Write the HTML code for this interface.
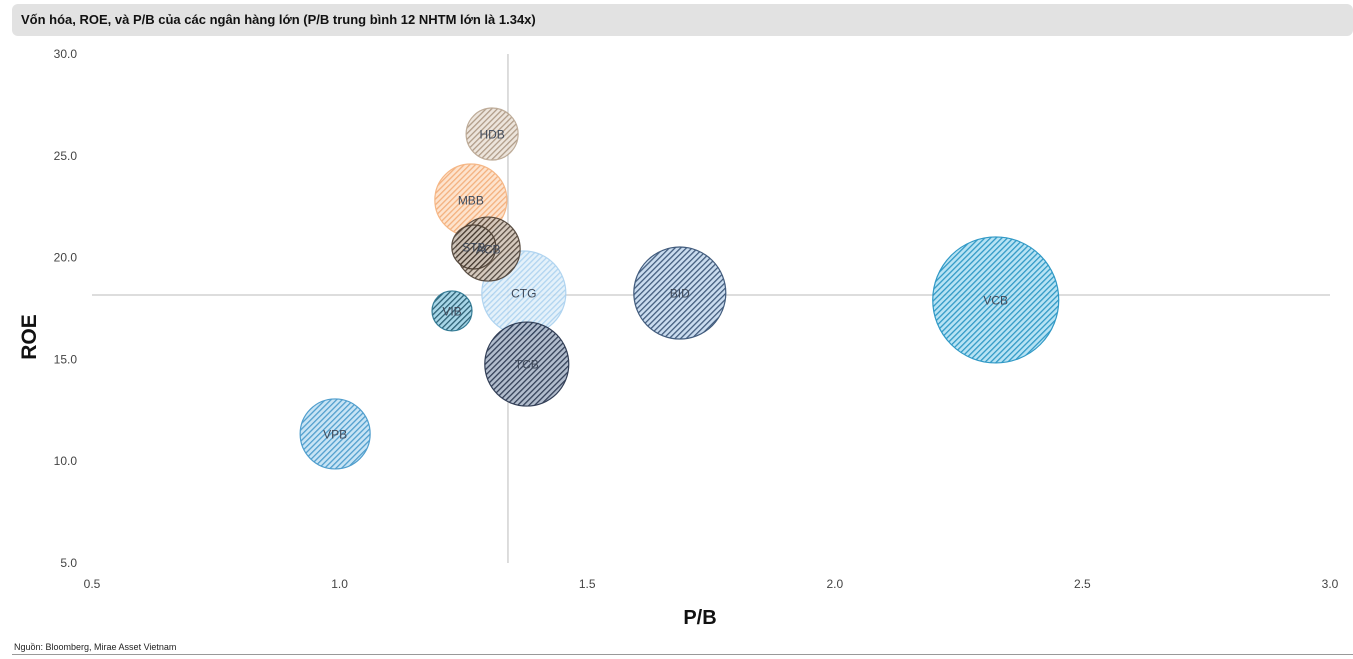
<!DOCTYPE html>
<html><head><meta charset="utf-8"><style>
body{margin:0;background:#fff;font-family:"Liberation Sans",sans-serif;}
#wrap{position:relative;width:1353px;height:659px;overflow:hidden;}
#title{position:absolute;left:12px;top:4px;width:1341px;height:32px;background:#e2e2e2;border-radius:6px;font-weight:bold;font-size:13px;line-height:32px;padding-left:9px;box-sizing:border-box;color:#111;}
#src{position:absolute;left:14px;top:642px;font-size:9px;color:#222;}
#rule{position:absolute;left:12px;top:654px;width:1341px;height:1px;background:#999;}
</style></head><body>
<div id="wrap">
<div id="title">Vốn hóa, ROE, và P/B của các ngân hàng lớn (P/B trung bình 12 NHTM lớn là 1.34x)</div>
<svg id="chart" width="1353" height="659" style="position:absolute;left:0;top:0"></svg>
<div id="src">Nguồn: Bloomberg, Mirae Asset Vietnam</div>
<div id="rule"></div>
</div>
<script>
const banks=["HDB","MBB","ACB","STB","CTG","BID","VCB","VIB","TCB","VPB"];
const pb=[1.308,1.265,1.30,1.271,1.372,1.687,2.325,1.227,1.378,0.991];
const roe=[26.07,22.83,20.42,20.52,18.26,18.26,17.92,17.38,14.77,11.34];
const cap=[26,36,32,22,42,46,63,20,42,35];
const xTicks=["0.5","1.0","1.5","2.0","2.5","3.0"];
const yTicks=["5.0","10.0","15.0","20.0","25.0","30.0"];
const avgPB=1.34, avgROE=18.16;
const fills=["#ece3d9","#fde0c8","#d2c5b8","#cbc0b4","#e2f0fa","#c5d9ee","#b0e0f3","#9fd3e6","#aab6c8","#c3e2f5"];
const strokes=["#b8a48e","#f5b07a","#4a3c30","#4a3c30","#a8d0ef","#2e4b70","#1b8fc0","#1f6d8a","#1d2b45","#3e94c8"];
const hatch=["#a8927c","#f3a870","#4a3c30","#3e3228","#a8d0ef","#2e4b70","#1b8fc0","#164f66","#1d2b45","#3e94c8"];
const order=[9,6,5,4,8,7,1,0,2,3];
const ns="http://www.w3.org/2000/svg";
const svg=document.getElementById('chart');
const x=v=>92+(v-0.5)*495.2;
const y=v=>54+(30-v)*20.36;
function mk(t,a,p){const e=document.createElementNS(ns,t);for(const k in a)e.setAttribute(k,a[k]);(p||svg).appendChild(e);return e;}
const defs=mk('defs',{});
banks.forEach((b,i)=>{
 const p=mk('pattern',{id:'h'+i,width:4,height:4,patternUnits:'userSpaceOnUse',patternTransform:'rotate(45)'},defs);
 mk('rect',{width:4,height:4,fill:fills[i]},p);
 mk('rect',{width:1.3,height:4,fill:hatch[i]},p);
});
xTicks.forEach(t=>{const e=mk('text',{x:x(+t),y:588,'text-anchor':'middle','font-size':12,fill:'#444'});e.textContent=t;
});
yTicks.forEach(t=>{const e=mk('text',{x:77,y:y(+t)+4,'text-anchor':'end','font-size':12,fill:'#444'});e.textContent=t;
});
let l=mk('line',{x1:x(avgPB),x2:x(avgPB),y1:y(30),y2:y(5),stroke:'#bbb','stroke-width':1});

l=mk('line',{x1:92,x2:1330,y1:y(avgROE),y2:y(avgROE),stroke:'#bbb','stroke-width':1});

order.forEach(i=>{
 const c=mk('circle',{cx:x(pb[i]),cy:y(roe[i]),r:cap[i],fill:'url(#h'+i+')',stroke:strokes[i],'stroke-width':1.2,opacity:0.9});
 
 
});
order.forEach(i=>{
 const t=mk('text',{x:x(pb[i]),y:y(roe[i])+4.5,'text-anchor':'middle','font-size':12,fill:'#404a5a'});t.textContent=banks[i];
 
});
let xt=mk('text',{x:700,y:624,'text-anchor':'middle','font-size':20,'font-weight':'bold',fill:'#111'});xt.textContent='P/B';

let yt=mk('text',{x:0,y:0,transform:'translate(36,337) rotate(-90)','text-anchor':'middle','font-size':21,'font-weight':'bold',fill:'#111'});yt.textContent='ROE';

</script>
</body></html>
